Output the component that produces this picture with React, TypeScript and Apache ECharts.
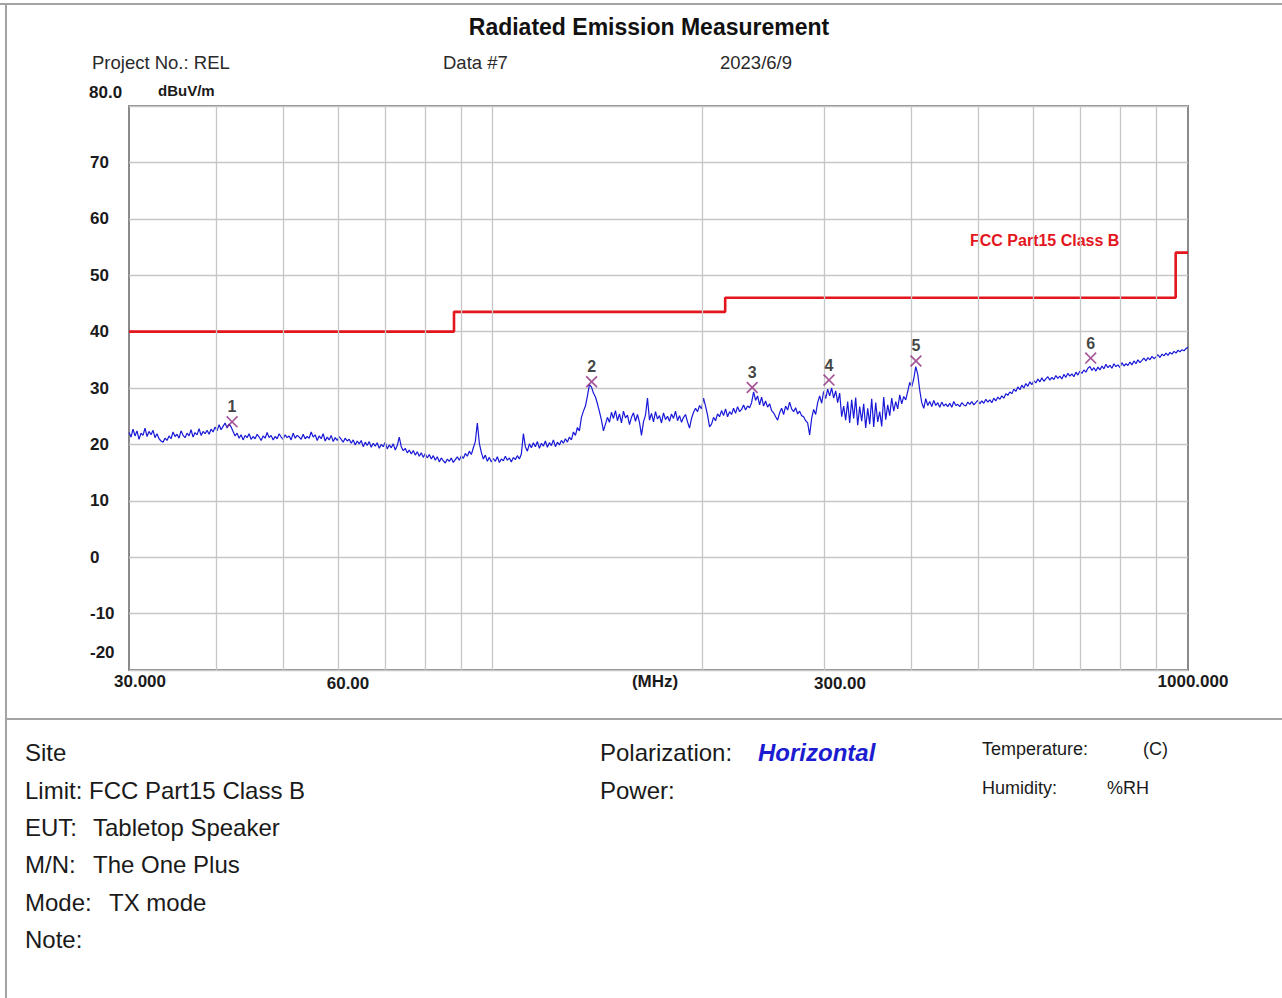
import React, { useEffect, useRef } from "react";
import * as echarts from "echarts";

// ---- data ----
const sweepStartMHz = 30;
const sweepStopMHz = 1000;

const traceLevels = [
  22.1, 21.3, 22.7, 21.5, 22.4, 20.9, 22.0, 21.6, 22.9, 21.4,
  22.3, 21.7, 22.5, 21.2, 21.9, 21.0, 20.6, 20.4, 21.1, 20.7,
  21.5, 21.0, 22.2, 21.4, 21.8, 21.1, 22.4, 21.6, 21.2, 22.0,
  21.5, 22.6, 21.3, 22.1, 21.7, 22.8, 21.6, 22.3, 21.9, 22.5,
  21.8, 22.7, 22.2, 23.1, 22.4, 23.5, 22.6, 23.2, 23.8, 22.9,
  23.6, 23.1, 22.3, 21.5, 22.0, 21.1, 21.7, 20.8, 21.6, 21.2,
  21.9, 20.9, 21.4, 21.0, 21.8, 21.3, 20.7, 21.5, 21.1, 22.1,
  21.2, 21.6, 20.8, 21.4, 21.0, 21.9, 21.3, 20.9, 21.7, 21.2,
  21.5, 20.8, 22.0, 21.1, 21.6, 21.3, 20.9, 21.8, 21.0, 21.4,
  21.1, 22.2, 21.3, 21.7, 20.7, 21.5, 21.0, 21.9, 20.6, 21.3,
  20.8, 21.6, 20.5, 21.2, 20.7, 21.4, 20.9, 20.4, 21.1, 20.6,
  20.9, 20.2, 20.8, 19.9, 20.6, 20.1, 20.7, 19.6, 20.4, 19.8,
  20.5, 19.5, 20.2, 19.7, 20.3, 19.3, 20.0, 19.6, 20.4, 19.2,
  19.9, 19.4, 20.1, 19.0, 19.8, 21.3, 19.6, 18.9, 19.3, 18.5,
  19.0, 18.3, 18.9, 18.1, 18.7, 17.9, 18.5, 17.7, 18.4, 17.6,
  18.2, 17.4, 18.0, 17.2, 17.8, 16.9, 17.6, 17.1, 16.7, 17.4,
  17.0, 17.6, 16.8, 17.3, 17.8, 17.2, 18.0, 17.5, 18.4, 17.9,
  18.8, 18.2, 19.4, 20.5, 23.8, 20.2, 18.6, 17.4, 18.1, 17.0,
  17.7, 16.9, 17.5, 17.0, 17.8, 16.8, 17.4, 17.1, 17.9, 17.2,
  17.6, 16.9, 17.7, 17.3, 18.0, 17.4, 18.3, 21.9, 19.6, 18.8,
  20.1, 19.4, 20.3, 19.6, 20.5, 19.3, 20.2, 19.7, 20.6, 19.5,
  20.3, 19.8, 20.8, 19.6, 20.4, 19.9, 20.7, 20.2, 21.0, 20.4,
  21.3, 20.8, 22.2, 21.6, 23.0, 22.4, 24.8, 25.9, 26.8, 28.6,
  30.6, 30.2, 29.1, 28.4, 27.2, 25.8, 24.3, 22.4, 23.6, 24.8,
  23.9, 25.7, 24.6, 26.0, 24.2, 25.4, 23.8, 25.9, 24.7, 25.2,
  23.5, 24.8, 25.6, 24.1, 25.3, 23.9, 21.6, 24.0, 25.2, 28.2,
  24.3, 25.5, 24.0, 25.8, 24.5, 25.1, 23.8, 25.6, 24.4, 25.0,
  24.1, 25.4, 24.6, 25.9, 24.2, 25.1, 23.9, 24.8, 25.3, 24.0,
  22.9, 24.6, 25.7, 26.4, 25.8, 26.9, 26.3, 28.2, 26.8, 25.2,
  23.1, 23.6, 24.8, 24.2, 25.4, 24.9, 26.0, 25.1, 26.3, 24.9,
  25.8, 25.3, 26.4, 25.5, 26.7, 25.8, 26.2, 27.0, 26.1, 26.8,
  26.5, 27.4, 29.3, 27.8, 28.6, 27.0, 28.4, 26.8, 27.7, 26.6,
  27.2, 26.0, 25.6, 24.9, 24.3, 25.6, 26.4, 25.3, 26.8, 26.1,
  27.5, 26.3, 25.8, 26.5, 25.4, 25.9, 25.1, 24.9, 24.2, 23.8,
  21.7, 24.6, 26.2, 25.3, 27.4, 28.6, 27.3, 29.4, 28.1, 29.8,
  28.6, 30.0, 28.2, 29.5, 27.4, 29.1, 24.9, 26.8, 24.3, 27.6,
  23.8, 27.9, 24.6, 28.3, 23.4, 26.7, 24.1, 27.2, 22.9, 26.4,
  23.6, 28.1, 23.1, 27.4, 24.0, 25.8, 23.2, 28.4, 24.4, 27.0,
  25.1, 28.2, 25.9, 27.6, 26.3, 28.8, 27.2, 28.5, 27.9, 29.4,
  31.0, 30.2, 31.6, 33.8, 32.4, 29.6, 27.4, 26.4, 28.1, 26.9,
  27.6, 26.7, 27.8, 26.9, 27.4, 26.6, 27.5, 26.8, 27.2, 26.7,
  27.3, 26.6, 27.6, 26.9, 27.1, 26.7, 27.4, 27.0, 26.8, 27.5,
  27.1, 27.6, 27.0, 27.4, 27.8, 27.2, 27.7, 27.3, 28.0, 27.5,
  27.9, 27.4, 28.2, 27.7, 28.4, 28.0, 28.6, 28.2, 29.0, 28.7,
  29.3, 29.0, 29.8, 29.4, 30.2, 29.7, 30.5, 30.0, 30.8, 30.3,
  31.1, 30.6, 31.3, 30.9, 31.6, 31.1, 31.8, 31.2, 31.6, 32.0,
  31.4, 31.9, 31.5, 32.2, 31.7, 32.1, 31.6, 32.4, 31.9, 32.6,
  32.1, 32.5, 32.0, 32.8, 32.3, 33.0, 32.6, 33.2, 32.8, 33.5,
  33.8, 33.1, 33.6, 33.0, 33.7, 33.2, 33.9, 33.4, 34.2, 33.6,
  34.0, 33.5, 34.3, 33.8, 34.1, 33.6, 34.5, 33.9, 34.3, 34.0,
  34.6, 34.1, 34.8, 34.3, 35.0, 34.5, 34.9, 35.3, 34.8, 35.4,
  35.0, 35.6, 35.2, 35.5, 35.9, 35.4, 36.0, 35.7, 36.2, 35.8,
  36.3, 36.0, 36.5, 36.2, 36.7, 36.4, 36.8, 36.6, 37.0, 37.2,
];

// FCC Part15 Class B limit (step line)
const limitFreqs = [30, 88, 88, 216, 216, 960, 960, 1000];
const limitLevels = [40, 40, 43.5, 43.5, 46, 46, 54, 54];

// peak markers
const markerNames = ["1", "2", "3", "4", "5", "6"];
const markerFreqs = [42.2, 138.8, 236.2, 304.6, 406.2, 724.6];
const markerLevels = [24.0, 31.1, 30.1, 31.4, 34.8, 35.3];

// vertical grid lines (MHz)
const gridFreqs = [40, 50, 60, 70, 80, 90, 100, 200, 300, 400, 500, 600, 700, 800, 900];

// y axis
const yMin = -20;
const yMax = 80;
const yStep = 10;

// x axis tick labels
const xTickLabels = ["30.000", "60.00", "(MHz)", "300.00", "1000.000"];

const FONT = '"Liberation Sans", Arial, sans-serif';

function txt(x: number, y: number, text: string, opts: any = {}) {
  return {
    type: "text",
    x,
    y,
    silent: true,
    style: {
      text,
      fill: opts.fill || "#1a1a1a",
      fontSize: opts.size || 18,
      fontWeight: opts.weight || "normal",
      fontStyle: opts.style || "normal",
      fontFamily: FONT,
      textAlign: opts.align || "left",
      textVerticalAlign: "middle",
    },
  };
}

function hline(x1: number, y1: number, x2: number, y2: number) {
  return {
    type: "line",
    silent: true,
    shape: { x1, y1, x2, y2 },
    style: { stroke: "#a3a3a3", lineWidth: 2 },
  };
}

export default function App() {
  const ref = useRef<HTMLDivElement>(null);

  useEffect(() => {
    if (!ref.current) return;
    const chart = echarts.init(ref.current, null, { renderer: "svg" });
    const n = traceLevels.length;
    const ratio = sweepStopMHz / sweepStartMHz;
    const traceData = traceLevels.map((v, i) => [
      sweepStartMHz * Math.pow(ratio, i / (n - 1)),
      v,
    ]);
    const limitData = limitFreqs.map((f, i) => [f, limitLevels[i]]);
    const markerData = markerFreqs.map((f, i) => ({
      name: markerNames[i],
      value: [f, markerLevels[i]],
    }));

    const xLabelPos = [140, 348, 655, 840, 1193];
    const xLabelY = [681, 683, 681, 683, 681];
    const bold17 = { size: 17, weight: "bold", fill: "#1a1a1a" };

    const option: any = {
      animation: false,
      backgroundColor: "#ffffff",
      grid: {
        left: 129,
        top: 106,
        width: 1059,
        height: 564,
        show: true,
        borderColor: "#8a8a8a",
        borderWidth: 2,
        backgroundColor: "#ffffff",
        containLabel: false,
      },
      xAxis: {
        type: "log",
        logBase: 10,
        min: sweepStartMHz,
        max: sweepStopMHz,
        axisLine: { show: false },
        axisTick: { show: false },
        axisLabel: { show: false },
        splitLine: { show: false },
      },
      yAxis: {
        type: "value",
        min: yMin,
        max: yMax,
        interval: yStep,
        axisLine: { show: false },
        axisTick: { show: false },
        splitLine: { show: true, lineStyle: { color: "#c6c6c6", width: 1.3 } },
        axisLabel: {
          show: true,
          align: "left",
          margin: 39,
          color: "#1a1a1a",
          fontSize: 17,
          fontWeight: "bold",
          fontFamily: FONT,
          formatter: (v: number) => (v === yMax || v === yMin ? "" : String(v)),
        },
      },
      series: [
        {
          type: "line",
          name: "grid",
          data: [],
          z: 1,
          silent: true,
          markLine: {
            silent: true,
            symbol: ["none", "none"],
            label: { show: false },
            lineStyle: { color: "#c6c6c6", width: 1.3, type: "solid" },
            data: gridFreqs.map((f) => ({ xAxis: f })),
          },
        },
        {
          type: "line",
          name: "FCC Part15 Class B",
          data: limitData,
          z: 3,
          showSymbol: false,
          symbol: "none",
          silent: true,
          lineStyle: { color: "#e3161e", width: 2.6 },
        },
        {
          type: "line",
          name: "Trace",
          data: traceData,
          z: 4,
          showSymbol: false,
          symbol: "none",
          silent: true,
          lineStyle: { color: "#1818d8", width: 1.2 },
        },
        {
          type: "scatter",
          name: "Markers",
          data: markerData,
          z: 5,
          silent: true,
          symbol:
            "path://M0,1 L1,0 L5,4 L9,0 L10,1 L6,5 L10,9 L9,10 L5,6 L1,10 L0,9 L4,5 Z",
          symbolSize: 12,
          itemStyle: { color: "#8e2a7e" },
          label: {
            show: true,
            position: "top",
            distance: 1,
            formatter: (p: any) => p.name,
            color: "#111111",
            fontSize: 16,
            fontWeight: "bold",
            fontFamily: FONT,
          },
        },
      ],
      graphic: [
        // frame
        hline(0, 4, 1282, 4),
        hline(6, 3, 6, 998),
        hline(6, 719, 1282, 719),
        // header
        txt(649, 27, "Radiated Emission Measurement", { size: 23, weight: "bold", align: "center", fill: "#111" }),
        txt(92, 62, "Project No.: REL", { size: 18.5, fill: "#2a2a2a" }),
        txt(443, 62, "Data #7", { size: 18.5, fill: "#2a2a2a" }),
        txt(720, 62, "2023/6/9", { size: 18.5, fill: "#2a2a2a" }),
        txt(89, 92, String(yMax.toFixed(1)), bold17),
        txt(158, 90, "dBuV/m", { size: 15, weight: "bold", fill: "#1a1a1a" }),
        txt(90, 652, String(yMin), bold17),
        ...xTickLabels.map((t, i) => txt(xLabelPos[i], xLabelY[i], t, { ...bold17, align: "center" })),
        txt(970, 240, "FCC Part15 Class B", { size: 16, weight: "bold", fill: "#e3161e" }),
        // info block
        txt(25, 752, "Site", { size: 24 }),
        txt(25, 790, "Limit: FCC Part15 Class B", { size: 24 }),
        txt(25, 827, "EUT:", { size: 24 }),
        txt(93, 827, "Tabletop Speaker", { size: 24 }),
        txt(25, 864, "M/N:", { size: 24 }),
        txt(93, 864, "The One Plus", { size: 24 }),
        txt(25, 902, "Mode:", { size: 24 }),
        txt(109, 902, "TX mode", { size: 24 }),
        txt(25, 939, "Note:", { size: 24 }),
        txt(600, 752, "Polarization:", { size: 24 }),
        txt(758, 752, "Horizontal", { size: 24, weight: "bold", style: "italic", fill: "#1c1cd0" }),
        txt(600, 790, "Power:", { size: 24 }),
        txt(982, 749, "Temperature:", { size: 18 }),
        txt(1143, 749, "(C)", { size: 18 }),
        txt(982, 788, "Humidity:", { size: 18 }),
        txt(1107, 788, "%RH", { size: 18 }),
      ],
    };

    chart.setOption(option);
    return () => chart.dispose();
  }, []);

  return (
    <div
      ref={ref}
      style={{ position: "fixed", left: 0, top: 0, width: 1282, height: 998, background: "#fff" }}
    />
  );
}
